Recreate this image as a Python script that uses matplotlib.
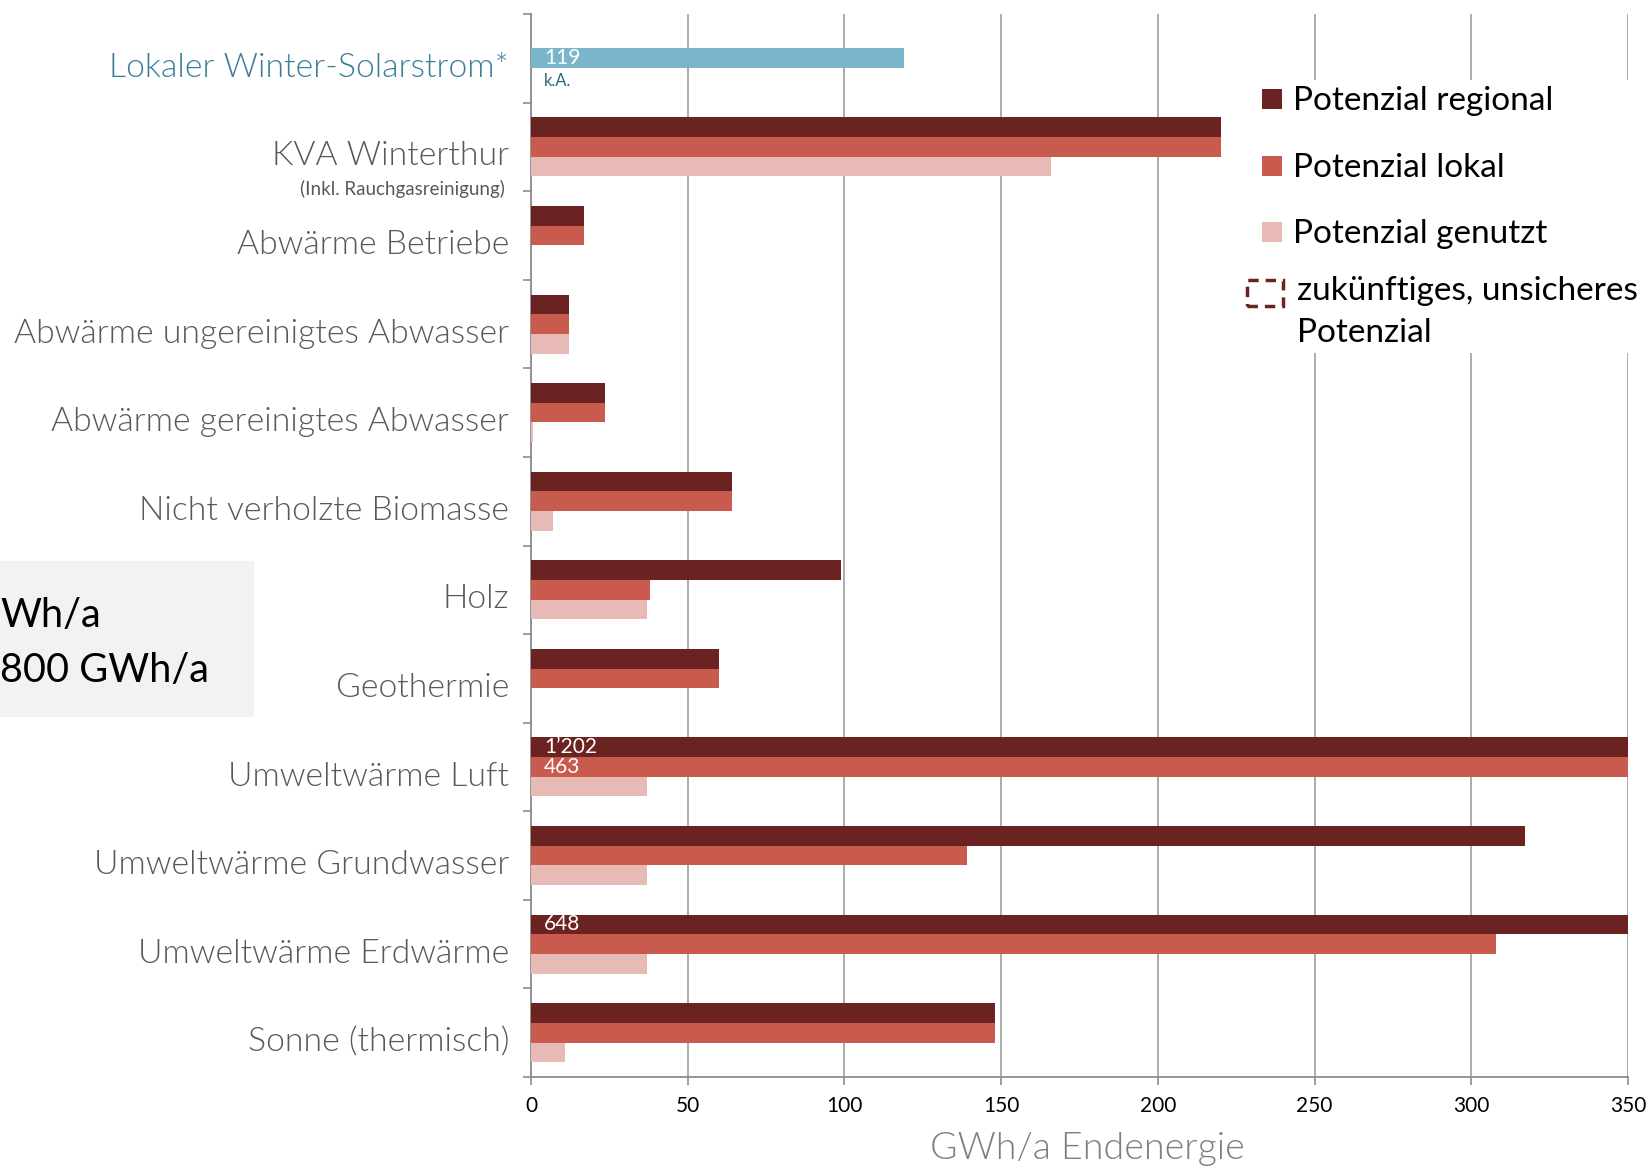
import matplotlib
matplotlib.use('Agg')
import matplotlib.pyplot as plt
from matplotlib.patches import Rectangle
import numpy as np

plt.rcParams['font.family'] = ['Lato', 'DejaVu Sans']

# Kategorien von oben nach unten
kategorien = ['Lokaler Winter-Solarstrom*', 'KVA Winterthur', 'Abwärme Betriebe',
              'Abwärme ungereinigtes Abwasser', 'Abwärme gereinigtes Abwasser',
              'Nicht verholzte Biomasse', 'Holz', 'Geothermie', 'Umweltwärme Luft',
              'Umweltwärme Grundwasser', 'Umweltwärme Erdwärme', 'Sonne (thermisch)']

# GWh/a Endenergie
regional = [0, 220, 17, 12, 23.5, 64, 99, 60, 1202, 317, 648, 148]
lokal = [0, 220, 17, 12, 23.5, 64, 38, 60, 463, 139, 308, 148]
genutzt = [0, 166, 0, 12, 0.5, 7, 37, 0, 37, 37, 37, 11]
solarstrom = 119

c_reg = '#6a2321'
c_lok = '#c85a4e'
c_gen = '#e8bab6'
c_sol = '#7ab5cb'
grau = '#595959'

W, H = 1651, 1168
fig = plt.figure(figsize=(W / 100, H / 100), dpi=100)
ax = fig.add_axes([531 / W, 1 - 1077 / H, (1628 - 531) / W, (1077 - 14) / H])

def px(x, y):
    return x / W, 1 - y / H

y = np.arange(len(kategorien))
h = 0.222

ax.barh(y[1:] - h, regional[1:], height=h, color=c_reg, zorder=3)
ax.barh(y[1:], lokal[1:], height=h, color=c_lok, zorder=3)
ax.barh(y[1:] + h, genutzt[1:], height=h, color=c_gen, zorder=3)
ax.barh(y[0], solarstrom, height=h, color=c_sol, zorder=3)

ax.set_xlim(0, 350)
ax.set_ylim(len(kategorien) - 0.5, -0.5)

# Werte über der Skala direkt beschriften
def wert(yy, s, color='white', size=15):
    ax.annotate(s, (0, yy), xytext=(13, 0), textcoords='offset pixels',
                ha='left', va='center', color=color, fontsize=size, zorder=5)

wert(0, str(solarstrom))
wert(0 + h + 0.03, 'k.A.', color='#2f6680', size=12)
wert(8 - h, '1’202')
wert(8, '463')
wert(10 - h, '648')

# Achsen
ax.set_xticks(np.arange(0, 351, 50))
ax.tick_params(axis='x', length=6, width=1.2, color='#8c8c8c', pad=8,
               labelsize=15, labelcolor='black')
ax.set_yticks([])
ax.set_yticks(np.arange(-0.5, len(kategorien)), minor=True)
ax.tick_params(axis='y', which='minor', length=6, width=1.2, color='#8c8c8c')
ax.grid(axis='x', color='#a6a6a6', linewidth=1.3, zorder=0)
for s in ['top', 'right']:
    ax.spines[s].set_visible(False)
for s in ['left', 'bottom']:
    ax.spines[s].set_color('#8c8c8c')
    ax.spines[s].set_linewidth(1.3)
ax.set_axisbelow(True)

for i, k in enumerate(kategorien):
    farbe = '#3a7f99' if i == 0 else grau
    ax.text(-0.02, i + 0.21, k, transform=ax.get_yaxis_transform(),
            ha='right', va='baseline', fontsize=24.3, color=farbe, fontweight=300)
ax.text(-0.024, 1 + 0.54, '(Inkl. Rauchgasreinigung)', transform=ax.get_yaxis_transform(),
        ha='right', va='baseline', fontsize=13.5, color=grau)

fig.text(*px(1087, 1159), 'GWh/a Endenergie', ha='center', va='baseline',
         fontsize=27, color='#7f7f7f', fontweight=300)

# Legende
ax.add_patch(Rectangle(px(1240, 353), 411 / W, 273 / H, transform=fig.transFigure,
                       facecolor='white', edgecolor='none', zorder=6, clip_on=False))
eintraege = [(c_reg, 'Potenzial regional', 110), (c_lok, 'Potenzial lokal', 177),
             (c_gen, 'Potenzial genutzt', 243)]
for farbe, text, base in eintraege:
    ax.add_patch(Rectangle(px(1262, base - 1), 20 / W, 20 / H, transform=fig.transFigure,
                           facecolor=farbe, edgecolor='none', zorder=7, clip_on=False))
    fig.text(*px(1293, base), text, ha='left', va='baseline', fontsize=24,
             color='black', zorder=8)
ax.add_patch(Rectangle(px(1247, 306), 36 / W, 26 / H, transform=fig.transFigure,
                       facecolor='none', edgecolor=c_reg, linestyle=(0, (3, 2)),
                       linewidth=2.5, zorder=7, clip_on=False))
fig.text(*px(1297, 300), 'zukünftiges, unsicheres', ha='left', va='baseline',
         fontsize=24, color='black', zorder=8)
fig.text(*px(1297, 342), 'Potenzial', ha='left', va='baseline',
         fontsize=24, color='black', zorder=8)

# Kasten links
fig.patches.append(Rectangle(px(0, 717), 254 / W, 156 / H, transform=fig.transFigure,
                             facecolor='#f2f2f2', edgecolor='none', zorder=1))
fig.text(*px(0, 627), 'Wh/a', ha='left', va='baseline', fontsize=28.5, color='black')
fig.text(*px(0, 682), '800 GWh/a', ha='left', va='baseline', fontsize=28.5, color='black')

fig.savefig('out.png', dpi=100)
